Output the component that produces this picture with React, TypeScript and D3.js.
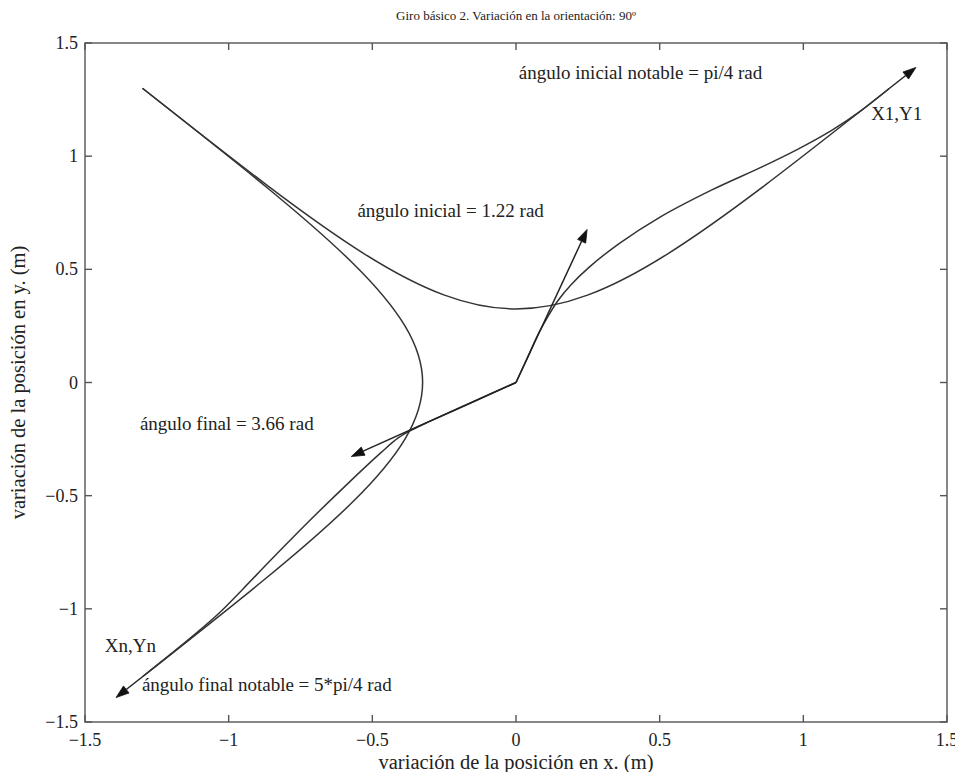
import React from 'react';
import * as d3 from 'd3';

const W = 955;
const H = 772;

// Axis limits and tick values (m)
const xDomain = [-1.5, 1.5];
const yDomain = [-1.5, 1.5];
const xTicks = [-1.5, -1, -0.5, 0, 0.5, 1, 1.5];
const yTicks = [-1.5, -1, -0.5, 0, 0.5, 1, 1.5];

// Cubic Bézier control points (m) of the two paths built from the notable angles
const notablePathToX1: [number, number][] = [[-1.3, 1.3], [0, 0], [0, 0], [1.3, 1.3]];
const notablePathToXn: [number, number][] = [[-1.3, 1.3], [0, 0], [0, 0], [-1.3, -1.3]];

// Positions (m) of the paths that leave the origin with the computed angles
const initialPath: [number, number][] = [
  [0, 0], [0.04, 0.11], [0.08, 0.22], [0.115, 0.3], [0.145, 0.36], [0.19, 0.43],
  [0.255, 0.51], [0.36, 0.615], [0.5, 0.73], [0.68, 0.85], [0.86, 0.955],
  [0.98, 1.03], [1.1, 1.115], [1.2, 1.2], [1.3, 1.3],
];
const finalPath: [number, number][] = [
  [0, 0], [-0.15, -0.086], [-0.3, -0.172], [-0.36, -0.208], [-0.41, -0.245],
  [-0.47, -0.31], [-0.58, -0.44], [-0.71, -0.6], [-0.85, -0.78], [-0.95, -0.912],
  [-1.03, -1.015], [-1.12, -1.115], [-1.3, -1.3],
];

// Orientation arrows: origin (m), angle (rad), length (m)
const arrowX0 = [0, 0, 1.3, -1.3];
const arrowY0 = [0, 0, 1.3, -1.3];
const arrowAngle = [1.22, 3.66, Math.PI / 4, (5 * Math.PI) / 4];
const arrowLength = [0.72, 0.66, 0.13, 0.13];

// Annotations and their anchor points (m)
const labelText = [
  'ángulo inicial notable = pi/4 rad',
  'X1,Y1',
  'ángulo inicial = 1.22 rad',
  'ángulo final = 3.66 rad',
  'Xn,Yn',
  'ángulo final notable = 5*pi/4 rad',
];
const labelX = [0.01, 1.236, -0.552, -1.309, -1.431, -1.302];
const labelY = [1.37, 1.189, 0.76, -0.181, -1.162, -1.334];

const FONT = '"Liberation Serif", "Times New Roman", serif';

export default function App() {
  const left = 85;
  const right = 947;
  const top = 43;
  const bottom = 722;
  const x = d3.scaleLinear().domain(xDomain).range([left, right]);
  const y = d3.scaleLinear().domain(yDomain).range([bottom, top]);

  const bezier = (pts: [number, number][]) => {
    const p = d3.path();
    p.moveTo(x(pts[0][0]), y(pts[0][1]));
    p.bezierCurveTo(
      x(pts[1][0]), y(pts[1][1]),
      x(pts[2][0]), y(pts[2][1]),
      x(pts[3][0]), y(pts[3][1])
    );
    return p.toString();
  };

  const line = d3
    .line<[number, number]>()
    .x((d) => x(d[0]))
    .y((d) => y(d[1]))
    .curve(d3.curveCatmullRom.alpha(0.5));

  const tickLen = 7;
  const fmt = (v: number) => (v < 0 ? '\u2212' + String(Math.abs(v)) : String(v));

  const arrows = arrowX0.map((x0, i) => {
    const x1 = x0 + arrowLength[i] * Math.cos(arrowAngle[i]);
    const y1 = arrowY0[i] + arrowLength[i] * Math.sin(arrowAngle[i]);
    const bx = x(x0), by = y(arrowY0[i]);
    const tx = x(x1), ty = y(y1);
    const dx = tx - bx, dy = ty - by;
    const L = Math.hypot(dx, dy);
    const ux = dx / L, uy = dy / L;
    const hl = 13, hw = 4.5;
    const cx = tx - ux * hl, cy = ty - uy * hl;
    const head = `M${tx},${ty}L${cx - uy * hw},${cy + ux * hw}L${cx + uy * hw},${cy - ux * hw}Z`;
    return { bx, by, cx, cy, head };
  });

  const stroke = '#333';

  return (
    <svg
      width={W}
      height={H}
      style={{ position: 'absolute', left: 0, top: 0, background: '#fff', fontFamily: FONT }}
    >
      <rect x={0} y={0} width={W} height={H} fill="#fff" />

      {/* title */}
      <text x={(left + right) / 2} y={20} textAnchor="middle" fontSize={13} fill="#222">
        Giro básico 2. Variación en la orientación: 90º
      </text>

      {/* curves */}
      <g fill="none" stroke={stroke} strokeWidth={1.5}>
        <path d={bezier(notablePathToX1)} />
        <path d={bezier(notablePathToXn)} />
        <path d={line(initialPath) || ''} />
        <path d={line(finalPath) || ''} />
      </g>

      {/* orientation arrows */}
      <g>
        {arrows.map((a, i) => (
          <g key={i}>
            <line x1={a.bx} y1={a.by} x2={a.cx} y2={a.cy} stroke="#222" strokeWidth={1.5} />
            <path d={a.head} fill="#111" stroke="#111" strokeWidth={0.8} />
          </g>
        ))}
      </g>

      {/* annotations */}
      <g fontSize={19} fill="#222">
        {labelText.map((t, i) => (
          <text key={i} x={x(labelX[i])} y={y(labelY[i])} dominantBaseline="central">
            {t}
          </text>
        ))}
      </g>

      {/* axes box and ticks */}
      <g stroke="#555" strokeWidth={1.4}>
        <rect x={left} y={top} width={right - left} height={bottom - top} fill="none" />
        {xTicks.map((v) => (
          <g key={'xt' + v}>
            <line x1={x(v)} x2={x(v)} y1={bottom} y2={bottom - tickLen} />
            <line x1={x(v)} x2={x(v)} y1={top} y2={top + tickLen} />
          </g>
        ))}
        {yTicks.map((v) => (
          <g key={'yt' + v}>
            <line x1={left} x2={left + tickLen} y1={y(v)} y2={y(v)} />
            <line x1={right} x2={right - tickLen} y1={y(v)} y2={y(v)} />
          </g>
        ))}
      </g>

      {/* tick labels */}
      <g fontSize={18} fill="#222">
        {xTicks.map((v) => (
          <text key={'xl' + v} x={x(v)} y={bottom + 24} textAnchor="middle">
            {fmt(v)}
          </text>
        ))}
        {yTicks.map((v) => (
          <text key={'yl' + v} x={left - 7} y={y(v)} textAnchor="end" dominantBaseline="central">
            {fmt(v)}
          </text>
        ))}
      </g>

      {/* axis labels */}
      <text x={(left + right) / 2} y={769} textAnchor="middle" fontSize={20.5} fill="#222">
        variación de la posición en x. (m)
      </text>
      <text
        transform={`translate(18,${(top + bottom) / 2}) rotate(-90)`}
        textAnchor="middle"
        dominantBaseline="central"
        fontSize={20.5}
        fill="#222"
      >
        variación de la posición en y. (m)
      </text>
    </svg>
  );
}
